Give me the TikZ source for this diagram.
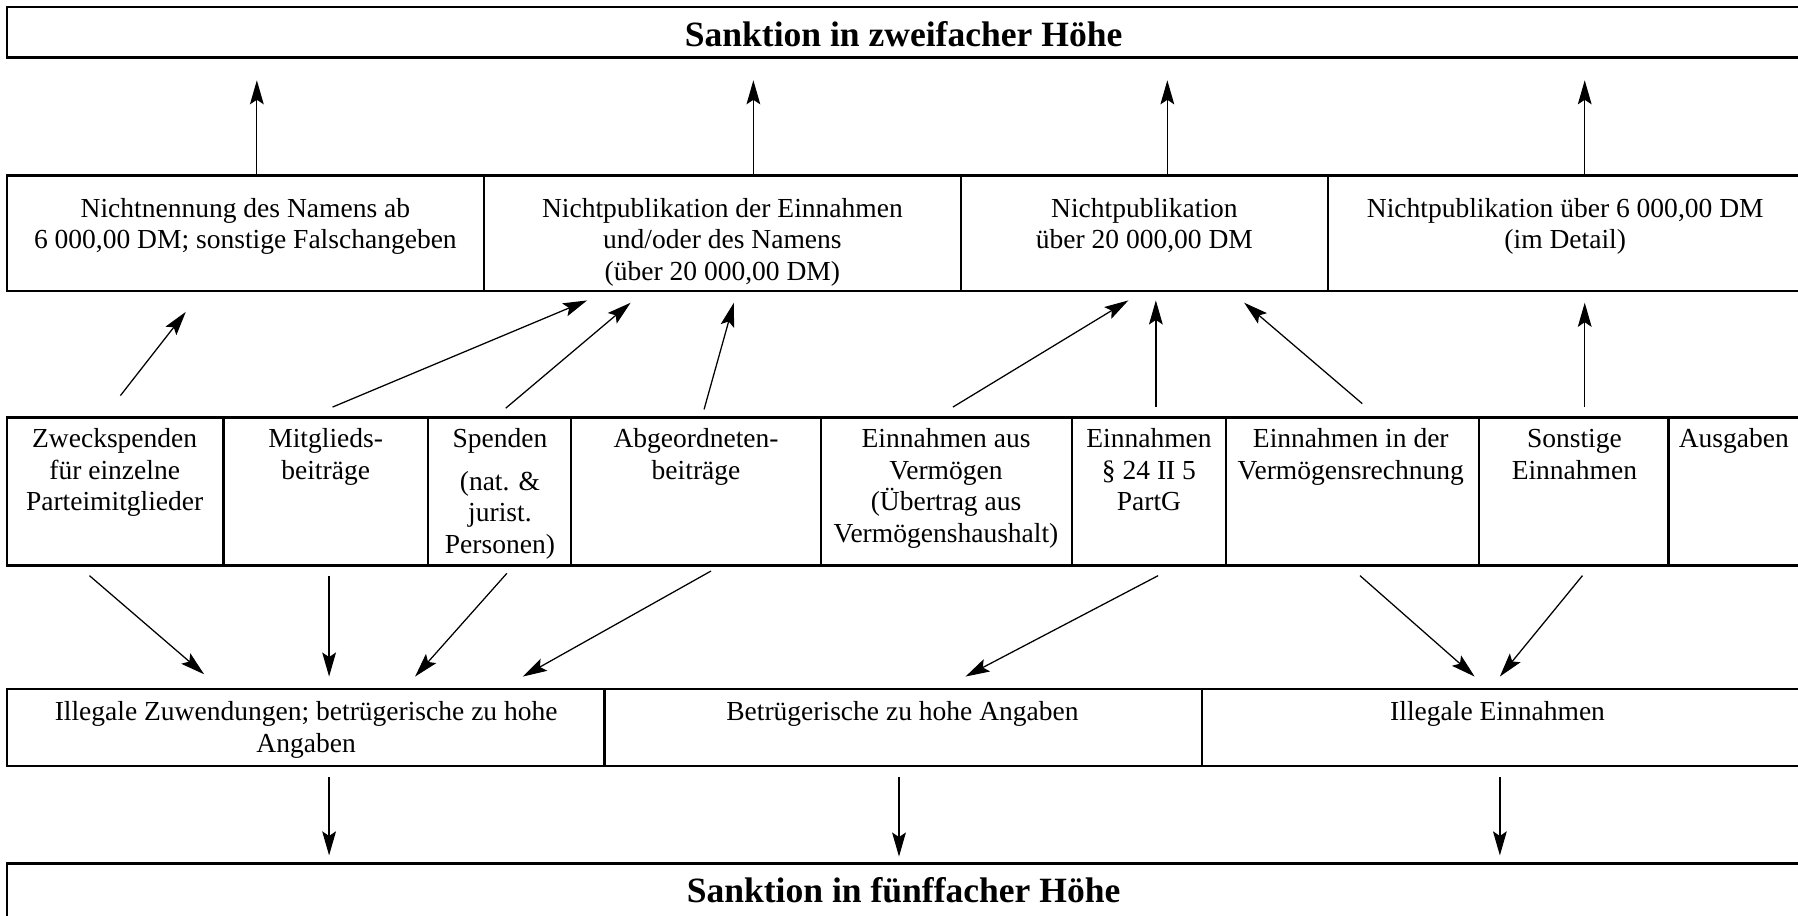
\documentclass[tikz,border=0pt]{standalone}
\usepackage{fontspec}
\setmainfont{Liberation Serif}
\usetikzlibrary{arrows.meta}
\newcommand\fsreg{\fontsize{24}{27.5}\selectfont}
\newcommand\fsbig{\fontsize{31}{36}\selectfont\bfseries}
\begin{document}
\begin{tikzpicture}[x=1pt,y=-1pt,
  box/.style={draw, line width=2.1pt, anchor=north west, inner sep=0pt, outer sep=0pt, rectangle},
  txt/.style={anchor=north, inner sep=0pt, align=center, font=\fsreg},
  ttl/.style={anchor=center, inner sep=0pt, font=\fsbig},
  arr/.style={-{Stealth[length=21pt,width=12pt,inset=4pt]}, line width=1.1pt}]
\useasboundingbox (0,0) rectangle (1568,798);
% boxes
\node[box, minimum width=1594pt, minimum height=44pt] (top) at (6,6) {};
\node[box, minimum width=416pt, minimum height=101pt] (r2a) at (6,153) {};
\node[box, minimum width=416pt, minimum height=101pt] (r2b) at (422,153) {};
\node[box, minimum width=320pt, minimum height=101pt] (r2c) at (838,153) {};
\node[box, minimum width=440pt, minimum height=101pt] (r2d) at (1158,153) {};
\node[box, minimum width=189pt, minimum height=129pt] (r3a) at (6,364) {};
\node[box, minimum width=178pt, minimum height=129pt] (r3b) at (195,364) {};
\node[box, minimum width=125pt, minimum height=129pt] (r3c) at (373,364) {};
\node[box, minimum width=218pt, minimum height=129pt] (r3d) at (498,364) {};
\node[box, minimum width=219pt, minimum height=129pt] (r3e) at (716,364) {};
\node[box, minimum width=134pt, minimum height=129pt] (r3f) at (935,364) {};
\node[box, minimum width=221pt, minimum height=129pt] (r3g) at (1069,364) {};
\node[box, minimum width=165pt, minimum height=129pt] (r3h) at (1290,364) {};
\node[box, minimum width=143pt, minimum height=129pt] (r3i) at (1455,364) {};
\node[box, minimum width=521pt, minimum height=67pt] (r4a) at (6,601) {};
\node[box, minimum width=521pt, minimum height=67pt] (r4b) at (527,601) {};
\node[box, minimum width=550pt, minimum height=67pt] (r4c) at (1048,601) {};
\node[box, minimum width=1594pt, minimum height=80pt] (bot) at (6,753) {};
% texts
\node[ttl] (ttop) at (788,30) {Sanktion in zweifacher Höhe};
\node[ttl] (tbot) at (788,776) {Sanktion in fünffacher Höhe};
\node[txt] (t2a) at (214,170) {\strut Nichtnennung des Namens ab\\6 000,00 DM; sonstige Falschangeben};
\node[txt] (t2b) at (630,170) {\strut Nichtpublikation der Einnahmen\\und/oder des Namens\\(über 20 000,00 DM)};
\node[txt] (t2c) at (998,170) {\strut Nichtpublikation\\über 20 000,00 DM};
\node[txt] (t2d) at (1365,170) {\strut Nichtpublikation über 6 000,00 DM\\(im Detail)};
\node[txt] (t3a) at (100,371) {\strut Zweckspenden\\für einzelne\\Parteimitglieder};
\node[txt] (t3b) at (284,371) {\strut Mitglieds-\\beiträge};
\node[txt] (t3c) at (436,371) {\strut Spenden\\[9.5pt](nat. \&\\jurist.\\Personen)};
\node[txt] (t3d) at (607,371) {\strut Abgeordneten-\\beiträge};
\node[txt] (t3e) at (825,371) {\strut Einnahmen aus\\Vermögen\\(Übertrag aus\\Vermögenshaushalt)};
\node[txt] (t3f) at (1002,371) {\strut Einnahmen\\§ 24 II 5\\PartG};
\node[txt] (t3g) at (1178,371) {\strut Einnahmen in der\\Vermögensrechnung};
\node[txt] (t3h) at (1373,371) {\strut Sonstige\\Einnahmen};
\node[txt] (t3i) at (1512,371) {\strut Ausgaben};
\node[txt] (t4a) at (267,609) {\strut Illegale Zuwendungen; betrügerische zu hohe\\Angaben};
\node[txt] (t4b) at (787,609) {\strut Betrügerische zu hohe Angaben};
\node[txt] (t4c) at (1306,609) {\strut Illegale Einnahmen};
% arrow end points
\coordinate (u1s) at (224,152); \coordinate (u1e) at (224,70);
\coordinate (u2s) at (657,152); \coordinate (u2e) at (657,70);
\coordinate (u3s) at (1018,152); \coordinate (u3e) at (1018,70);
\coordinate (u4s) at (1382,152); \coordinate (u4e) at (1382,70);
\coordinate (a1s) at (105,345); \coordinate (a1e) at (162,272);
\coordinate (a2s) at (290,355); \coordinate (a2e) at (512,262);
\coordinate (a3s) at (441,356); \coordinate (a3e) at (550,264);
\coordinate (a4s) at (614,357); \coordinate (a4e) at (640,264);
\coordinate (a5s) at (831,355); \coordinate (a5e) at (984,262);
\coordinate (a6s) at (1008,355); \coordinate (a6e) at (1008,262);
\coordinate (a7s) at (1188,352); \coordinate (a7e) at (1085,264);
\coordinate (a8s) at (1382,355); \coordinate (a8e) at (1382,264);
\coordinate (b1s) at (78,502); \coordinate (b1e) at (178,588);
\coordinate (b2s) at (287,502); \coordinate (b2e) at (287,590);
\coordinate (b3s) at (442,500); \coordinate (b3e) at (362,590);
\coordinate (b4s) at (620,498); \coordinate (b4e) at (456,590);
\coordinate (b5s) at (1010,502); \coordinate (b5e) at (842,590);
\coordinate (b6s) at (1186,502); \coordinate (b6e) at (1286,590);
\coordinate (b7s) at (1380,502); \coordinate (b7e) at (1308,590);
\coordinate (d1s) at (287,678); \coordinate (d1e) at (287,746);
\coordinate (d2s) at (784,678); \coordinate (d2e) at (784,747);
\coordinate (d3s) at (1308,678); \coordinate (d3e) at (1308,746);
% arrows
\foreach \n in {u1,u2,u3,u4,a1,a2,a3,a4,a5,a6,a7,a8,b1,b2,b3,b4,b5,b6,b7,d1,d2,d3}
  \draw[arr] (\n s) -- (\n e);
\end{tikzpicture}
\end{document}
